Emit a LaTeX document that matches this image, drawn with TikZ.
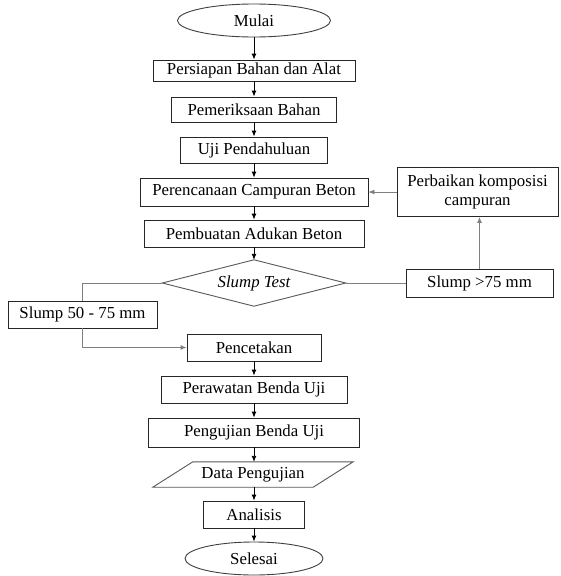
\documentclass[tikz,border=0pt]{standalone}
\usepackage{fontspec}
\setmainfont{Liberation Serif}
\usetikzlibrary{arrows.meta,shapes.geometric}
\begin{document}
\begin{tikzpicture}[x=1pt,y=-1pt,
  every node/.style={font=\fontsize{16.8}{19}\selectfont, inner sep=0pt, text=black},
  procbox/.style={draw=black!85, line width=0.9pt, rectangle, minimum width=#1},
  oval/.style={draw=black!75, line width=0.9pt, ellipse},
  arr/.style={line width=0.9pt, draw=black, -{Latex[length=6pt,width=5pt]}},
  sidearr/.style={line width=0.9pt, draw=black!50, -{Latex[length=6pt,width=5pt]}},
  sideline/.style={line width=0.9pt, draw=black!50}
]
\useasboundingbox (0,0) rectangle (560,576);
\fill[white] (0,0) rectangle (560,576);

\node[oval, minimum width=153pt, minimum height=33pt] (mulai) at (254,20.5) {Mulai};
\node[procbox=202pt, minimum height=21pt] (persiapan) at (254,70.5) {Persiapan Bahan dan Alat};
\node[procbox=165pt, minimum height=25pt] (periksa) at (254,109.5) {Pemeriksaan Bahan};
\node[procbox=147pt, minimum height=26pt] (uji) at (254,150) {Uji Pendahuluan};
\node[procbox=228pt, minimum height=28pt] (rencana) at (254,192) {Perencanaan Campuran Beton};
\node[procbox=220pt, minimum height=27pt] (buat) at (254,233.5) {Pembuatan Adukan Beton};
\node[minimum width=183pt, minimum height=46pt] (slump) at (254,283) {\itshape Slump Test};
\draw[draw=black!65, line width=0.9pt] (slump.west) -- (slump.north) -- (slump.east) -- (slump.south) -- cycle;
\node[procbox=149pt, minimum height=27pt] (s50) at (82.5,314.5) {Slump 50 - 75 mm};
\node[procbox=147pt, minimum height=28pt] (s75) at (479.5,283) {Slump >75 mm};
\node[procbox=161pt, minimum height=49pt, align=center] (perbaikan) at (477.5,192) {Perbaikan komposisi\\campuran};
\node[procbox=134pt, minimum height=27pt] (cetak) at (254,347.5) {Pencetakan};
\node[procbox=186pt, minimum height=27pt] (rawat) at (254,389.5) {Perawatan Benda Uji};
\node[procbox=211pt, minimum height=29pt] (uji2) at (254,432.5) {Pengujian Benda Uji};
\node[minimum width=160pt, minimum height=25pt] (data) at (253,474.5) {Data Pengujian};
\draw[draw=black!65, line width=0.9pt] ([xshift=-20pt]data.south west) -- ([xshift=20pt]data.north west) -- ([xshift=20pt]data.north east) -- ([xshift=-20pt]data.south east) -- cycle;
\node[procbox=101pt, minimum height=27pt] (analisis) at (254,514.5) {Analisis};
\node[oval, minimum width=138pt, minimum height=33pt] (selesai) at (254,558.5) {Selesai};

\draw[arr] (mulai) -- (persiapan);
\draw[arr] (persiapan) -- (periksa);
\draw[arr] (periksa) -- (uji);
\draw[arr] (uji) -- (rencana);
\draw[arr] (rencana) -- (buat);
\draw[arr] (buat) -- (slump.north);
\draw[sideline] (slump.west) -| (s50.north);
\draw[sidearr] (s50.south) |- (cetak.west);
\draw[sideline] (slump.east) -- (s75.west);
\draw[sidearr] (s75.north) -- (s75.north |- perbaikan.south);
\draw[sidearr] (perbaikan.west) -- (rencana.east);
\draw[arr] (cetak) -- (rawat);
\draw[arr] (rawat) -- (uji2);
\draw[arr] (uji2) -- (data.north -| uji2.south);
\draw[arr] (data.south -| analisis.north) -- (analisis);
\draw[arr] (analisis) -- (selesai);
\end{tikzpicture}
\end{document}
